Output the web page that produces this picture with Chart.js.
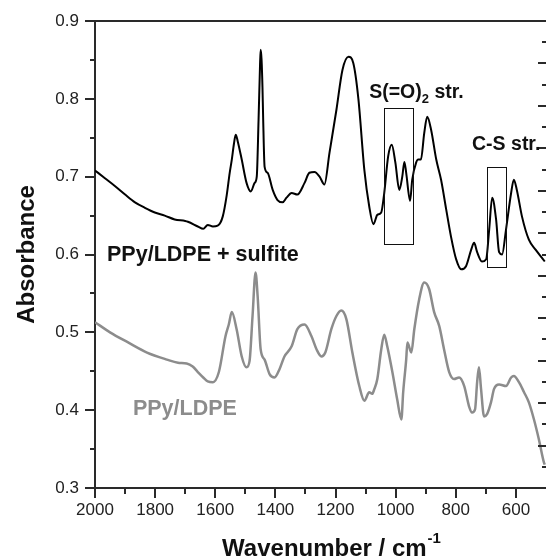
<!DOCTYPE html>
<html><head><meta charset="utf-8">
<script src="https://cdn.jsdelivr.net/npm/chart.js@4.4.1/dist/chart.umd.min.js"></script>
<style>html,body{margin:0;padding:0;background:#fff}canvas{display:block}</style>
</head><body>
<canvas id="c" width="546" height="560"></canvas>
<script>
// ---- data ----
const sulfiteWavenumber = [2000,1967,1934,1900,1867,1834,1801,1768,1735,1700,1691,1658,1640,1625,1608,1592,1575,1562,1552,1545,1538,1532,1525,1512,1496,1482,1469,1462,1456,1451,1449,1446,1443,1441,1436,1426,1409,1393,1376,1363,1346,1327,1303,1287,1270,1253,1237,1220,1197,1177,1157,1141,1124,1104,1088,1074,1061,1048,1038,1025,1013,1001,988,978,971,965,952,945,932,925,916,905,895,882,865,849,832,816,799,782,766,749,739,729,713,699,689,679,666,656,646,633,616,607,597,580,557,534,514,504];
const sulfiteAbs = [0.708,0.698,0.688,0.677,0.667,0.660,0.654,0.650,0.645,0.643,0.642,0.636,0.633,0.638,0.636,0.637,0.649,0.676,0.705,0.722,0.742,0.754,0.745,0.722,0.692,0.681,0.692,0.700,0.773,0.845,0.863,0.850,0.815,0.780,0.713,0.705,0.683,0.670,0.667,0.673,0.679,0.677,0.692,0.705,0.706,0.700,0.690,0.731,0.786,0.837,0.854,0.846,0.800,0.708,0.662,0.639,0.651,0.654,0.679,0.726,0.741,0.718,0.683,0.700,0.719,0.705,0.669,0.696,0.718,0.722,0.722,0.756,0.777,0.760,0.722,0.696,0.658,0.623,0.594,0.581,0.585,0.606,0.615,0.603,0.591,0.594,0.632,0.673,0.645,0.603,0.600,0.632,0.679,0.696,0.683,0.649,0.619,0.606,0.596,0.591];

const ldpeWavenumber = [2000,1950,1890,1827,1761,1724,1695,1675,1658,1640,1625,1608,1588,1566,1555,1545,1529,1512,1496,1486,1476,1466,1459,1449,1436,1419,1403,1386,1370,1346,1327,1303,1280,1263,1247,1234,1214,1197,1181,1164,1144,1121,1104,1088,1078,1071,1061,1048,1038,1028,1011,995,981,975,965,961,948,938,922,905,889,872,855,839,822,806,789,772,756,746,736,729,723,716,706,696,683,673,656,633,616,607,590,573,557,540,524,507,504];
const ldpeAbs = [0.513,0.500,0.487,0.474,0.465,0.461,0.460,0.456,0.449,0.442,0.437,0.436,0.449,0.495,0.510,0.526,0.504,0.469,0.455,0.463,0.521,0.577,0.546,0.478,0.465,0.446,0.442,0.453,0.469,0.482,0.504,0.510,0.495,0.478,0.469,0.474,0.504,0.521,0.528,0.517,0.474,0.431,0.412,0.423,0.421,0.427,0.440,0.478,0.497,0.482,0.449,0.414,0.388,0.423,0.465,0.487,0.474,0.504,0.542,0.564,0.556,0.526,0.508,0.478,0.449,0.440,0.442,0.431,0.405,0.397,0.401,0.436,0.455,0.427,0.392,0.395,0.410,0.427,0.433,0.431,0.442,0.444,0.436,0.423,0.410,0.388,0.363,0.333,0.330];

const seriesLabels = ['PPy/LDPE + sulfite', 'PPy/LDPE'];
const xTickValues = [2000,1800,1600,1400,1200,1000,800,600];
const xMinorTickValues = [1900,1700,1500,1300,1100,900,700];
const yTickValues = [0.3,0.4,0.5,0.6,0.7,0.8,0.9];
const yMinorTickValues = [0.35,0.45,0.55,0.65,0.75,0.85];
const rightTickValues = [1,2,3,4,5,6,7,8,9,10,11,12,13,14,15,16,17,18,19,20,21];
const xTitle = 'Wavenumber / cm';
const xTitleSup = '-1';
const yTitle = 'Absorbance';
const bandLabels = ['S(=O)', '2', ' str.', 'C-S str.'];

const FONT = "'Liberation Sans', Arial, Helvetica, sans-serif";
const AXIS = '#2a2a2a';
const GRAY = '#8c8c8c';

const decorations = {
  id: 'decorations',
  afterDraw(chart) {
    const ctx = chart.ctx, ca = chart.chartArea;
    const xs = chart.scales.x, ys = chart.scales.y, y2 = chart.scales.y2;
    ctx.save();
    ctx.strokeStyle = AXIS; ctx.lineWidth = 2; ctx.lineCap = 'butt';
    const line = (x1,y1,x2,y2_) => { ctx.beginPath(); ctx.moveTo(x1,y1); ctx.lineTo(x2,y2_); ctx.stroke(); };
    yTickValues.forEach(v => { const p = Math.round(ys.getPixelForValue(v)); line(ca.left-10, p, ca.left, p); });
    yMinorTickValues.forEach(v => { const p = Math.round(ys.getPixelForValue(v)); line(ca.left-5, p, ca.left, p); });
    xTickValues.forEach(v => { const p = Math.round(xs.getPixelForValue(v)); line(p, ca.bottom, p, ca.bottom+10); });
    xMinorTickValues.forEach(v => { const p = Math.round(xs.getPixelForValue(v)); line(p, ca.bottom, p, ca.bottom+6); });
    line(ca.left-1, ca.top, ca.right, ca.top);
    rightTickValues.forEach(k => { const p = Math.round(y2.getPixelForValue(k)); const len = (k % 2 === 0) ? 8 : 4; line(ca.right-len, p, ca.right, p); });
    ctx.lineWidth = 1; ctx.strokeStyle = '#111';
    const box = (w1,w2,a1,a2) => {
      const x1 = xs.getPixelForValue(w1), x2 = xs.getPixelForValue(w2);
      const yA = ys.getPixelForValue(a1), yB = ys.getPixelForValue(a2);
      ctx.strokeRect(Math.round(x1)+0.5, Math.round(yA)+0.5, Math.round(x2-x1), Math.round(yB-yA));
    };
    box(1040, 943, 0.788, 0.613);
    box(697, 633, 0.712, 0.583);
    ctx.textBaseline = 'middle'; ctx.textAlign = 'left';
    ctx.fillStyle = '#111';
    ctx.font = 'bold 21.5px ' + FONT;
    ctx.fillText(seriesLabels[0], xs.getPixelForValue(1960), ys.getPixelForValue(0.599));
    ctx.fillStyle = GRAY;
    ctx.fillText(seriesLabels[1], xs.getPixelForValue(1874), ys.getPixelForValue(0.401));
    ctx.fillStyle = '#111';
    ctx.font = 'bold 19.5px ' + FONT;
    let sx = xs.getPixelForValue(1088), sy = ys.getPixelForValue(0.808);
    ctx.fillText(bandLabels[0], sx, sy);
    sx += ctx.measureText(bandLabels[0]).width;
    ctx.font = 'bold 13px ' + FONT;
    ctx.fillText(bandLabels[1], sx, sy + 7);
    sx += ctx.measureText(bandLabels[1]).width;
    ctx.font = 'bold 19.5px ' + FONT;
    ctx.fillText(bandLabels[2], sx, sy);
    ctx.fillText(bandLabels[3], xs.getPixelForValue(746), ys.getPixelForValue(0.741));
    ctx.font = 'bold 24px ' + FONT;
    const w1 = ctx.measureText(xTitle).width;
    ctx.font = 'bold 15px ' + FONT;
    const w2 = ctx.measureText(xTitleSup).width;
    const cx = ca.left + 236;
    let tx = cx - (w1 + w2) / 2;
    ctx.textBaseline = 'alphabetic';
    ctx.font = 'bold 24px ' + FONT;
    ctx.fillText(xTitle, tx, 556);
    ctx.font = 'bold 15px ' + FONT;
    ctx.fillText(xTitleSup, tx + w1 + 1, 543);
    ctx.restore();
  }
};

new Chart(document.getElementById('c'), {
  type: 'line',
  data: {
    datasets: [
      { label: seriesLabels[0], data: sulfiteWavenumber.map((w,i) => ({x: w, y: sulfiteAbs[i]})),
        borderColor: '#000', borderWidth: 2, pointRadius: 0, cubicInterpolationMode: 'monotone', fill: false },
      { label: seriesLabels[1], data: ldpeWavenumber.map((w,i) => ({x: w, y: ldpeAbs[i]})),
        borderColor: GRAY, borderWidth: 2.5, pointRadius: 0, cubicInterpolationMode: 'monotone', fill: false }
    ]
  },
  options: {
    responsive: false, animation: false, devicePixelRatio: 1,
    layout: { padding: { top: 21, right: 0, left: 0, bottom: 0 } },
    plugins: { legend: { display: false }, tooltip: { enabled: false } },
    scales: {
      x: {
        type: 'linear', reverse: true, min: 500, max: 2000,
        afterBuildTicks: s => { s.ticks = xTickValues.map(v => ({ value: v })); },
        afterFit: s => { s.height = 72; },
        grid: { display: false, drawTicks: true, tickLength: 10 },
        border: { display: true, color: AXIS, width: 2 },
        ticks: { color: '#222', font: { family: FONT, size: 17 }, padding: 2, maxRotation: 0, autoSkip: false,
                 callback: v => String(v) }
      },
      y: {
        min: 0.3, max: 0.9,
        afterBuildTicks: s => { s.ticks = yTickValues.map(v => ({ value: v })); },
        afterFit: s => { s.width = 95; },
        grid: { display: false, drawTicks: true, tickLength: 12 },
        border: { display: true, color: AXIS, width: 2 },
        ticks: { color: '#222', font: { family: FONT, size: 17 }, padding: 4, callback: v => Number(v).toFixed(1) },
        title: { display: true, text: yTitle, color: '#111', font: { family: FONT, size: 24, weight: 'bold' }, padding: { top: 13, bottom: 0 } }
      },
      y2: { display: false, min: 0, max: 22, position: 'right' }
    }
  },
  plugins: [decorations]
});
</script>
</body></html>
